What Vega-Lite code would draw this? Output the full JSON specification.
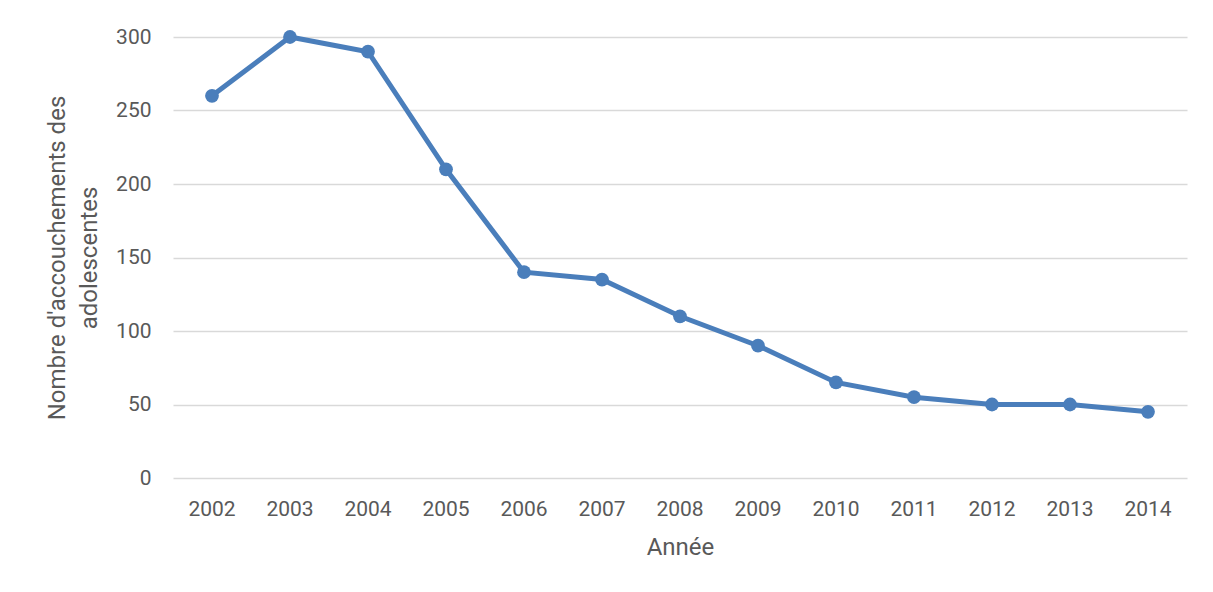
{
  "$schema": "https://vega.github.io/schema/vega-lite/v6.json",
  "width": 1014,
  "height": 441,
  "autosize": "none",
  "padding": {"left": 173, "top": 37, "right": 26, "bottom": 114},
  "background": "white",
  "config": {
    "view": {"stroke": null},
    "font": "Roboto",
    "axis": {
      "labelFont": "Roboto",
      "titleFont": "Roboto",
      "labelColor": "#595959",
      "titleColor": "#595959",
      "titleFontWeight": "normal",
      "labelFontSize": 21,
      "titleFontSize": 24,
      "gridColor": "#d9d9d9",
      "gridWidth": 1.5,
      "domain": false,
      "ticks": false
    }
  },
  "data": {
    "values": [
      {"annee": "2002", "n": 260},
      {"annee": "2003", "n": 300},
      {"annee": "2004", "n": 290},
      {"annee": "2005", "n": 210},
      {"annee": "2006", "n": 140},
      {"annee": "2007", "n": 135},
      {"annee": "2008", "n": 110},
      {"annee": "2009", "n": 90},
      {"annee": "2010", "n": 65},
      {"annee": "2011", "n": 55},
      {"annee": "2012", "n": 50},
      {"annee": "2013", "n": 50},
      {"annee": "2014", "n": 45}
    ]
  },
  "encoding": {
    "x": {
      "field": "annee",
      "type": "ordinal",
      "scale": {"type": "band", "paddingInner": 0, "paddingOuter": 0},
      "axis": {"title": "Année", "labelAngle": 0, "labelPadding": 20, "titlePadding": 16, "grid": false}
    },
    "y": {
      "field": "n",
      "type": "quantitative",
      "scale": {"domain": [0, 300]},
      "axis": {
        "title": ["Nombre d'accouchements des", "adolescentes"],
        "values": [0, 50, 100, 150, 200, 250, 300],
        "labelPadding": 22,
        "titlePadding": 14,
        "titleLineHeight": 32
      }
    }
  },
  "layer": [
    {"mark": {"type": "line", "color": "#4a7ebb", "strokeWidth": 5}},
    {"mark": {"type": "point", "filled": true, "color": "#4a7ebb", "opacity": 1, "size": 190}}
  ]
}
